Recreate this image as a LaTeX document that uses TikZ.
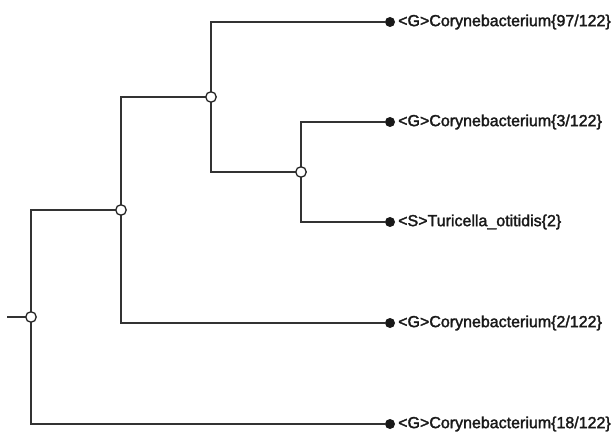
\documentclass[tikz,border=0pt]{standalone}
\usepackage{fontspec}
\setmainfont{Liberation Sans}
\newfontfamily\lblfont{Liberation Sans}[FakeBold=2]
\begin{document}
\begin{tikzpicture}[x=1pt,y=-1pt,
  branch/.style={draw=black!80, line width=1.3pt},
  inner/.style={circle, draw=black!85, fill=white, line width=1.3pt, minimum size=10.5pt, inner sep=0pt},
  leaf/.style={circle, fill=black!90, minimum size=10pt, inner sep=0pt},
  lbl/.style={anchor=west, inner sep=0pt, font=\lblfont\fontsize{16}{18}\selectfont, text=black!90}]
\useasboundingbox (0,0) rectangle (612,435);
\coordinate (stub) at (7,317);
% leaves
\node[leaf] (l1) at (390,22) {};
\node[leaf] (l2) at (390,122) {};
\node[leaf] (l3) at (390,222) {};
\node[leaf] (l4) at (390,323) {};
\node[leaf] (l5) at (390,424) {};
\node[lbl] (t1) at (398,22) {<G>Corynebacterium\{97/122\}};
\node[lbl] (t2) at (398,122) {<G>Corynebacterium\{3/122\}};
\node[lbl] (t3) at (398,222) {<S>Turicella\_otitidis\{2\}};
\node[lbl] (t4) at (398,323) {<G>Corynebacterium\{2/122\}};
\node[lbl] (t5) at (398,424) {<G>Corynebacterium\{18/122\}};
% inner node positions
\coordinate (pr) at (31,317);
\coordinate (pa) at (121,210);
\coordinate (pb) at (211,97);
\coordinate (pc) at (301,172);
% branches
\draw[branch] (stub) -- (pr);
\draw[branch] (pa) -| (pr) |- (l5);
\draw[branch] (pb) -| (pa) |- (l4);
\draw[branch] (l1) -| (pb) |- (pc);
\draw[branch] (l2) -| (pc) |- (l3);
% inner nodes
\node[inner] (r) at (pr) {};
\node[inner] (a) at (pa) {};
\node[inner] (b) at (pb) {};
\node[inner] (c) at (pc) {};
\end{tikzpicture}
\end{document}
